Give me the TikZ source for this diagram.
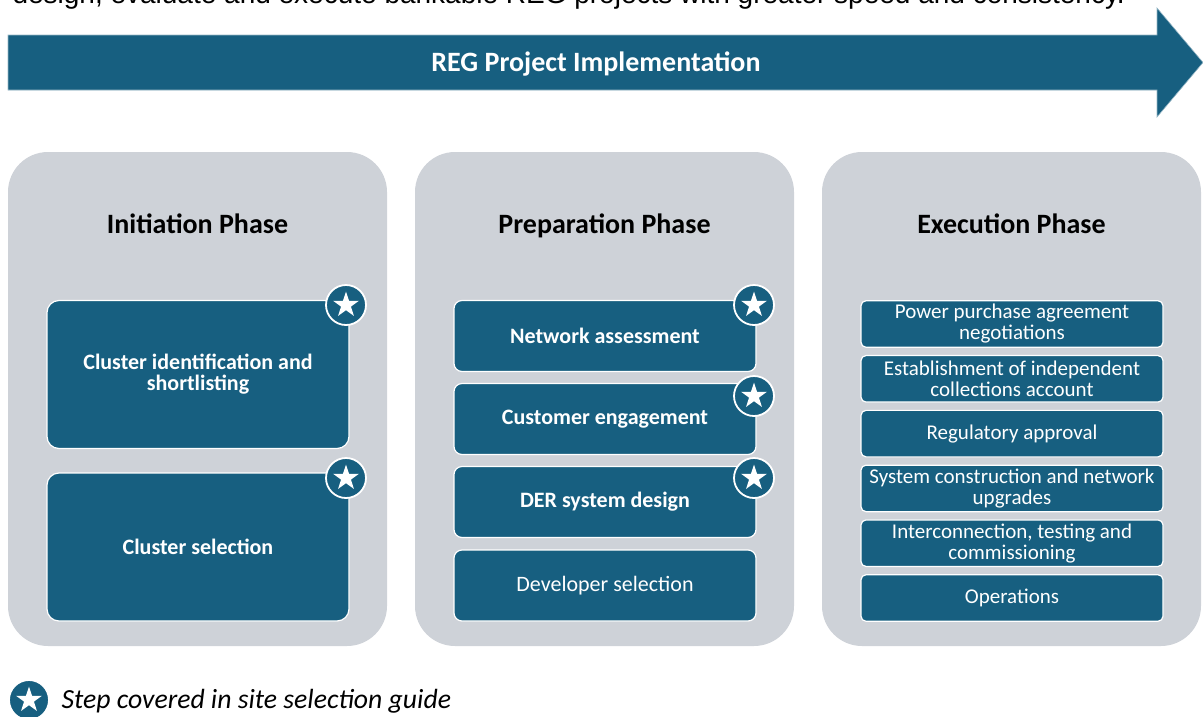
\documentclass[tikz,border=0pt]{standalone}
\usepackage{fontspec}
\setmainfont{Carlito}
\newfontfamily\introfont{Liberation Sans}
\usepackage{tikz}
\usetikzlibrary{shapes.geometric}

\definecolor{regblue}{RGB}{23,95,128}
\definecolor{phasegrey}{RGB}{206,210,216}

\begin{document}
\begin{tikzpicture}[x=1pt,y=-1pt,
  phase/.style={shape=rectangle, fill=phasegrey, rounded corners=40pt, minimum width=379pt, minimum height=494pt},
  phasetitle/.style={anchor=base, font=\fontsize{28}{30}\selectfont\bfseries},
  bigstep/.style={shape=rectangle, draw=white, line width=1.2pt, fill=regblue, rounded corners=12pt, minimum width=302pt, minimum height=148pt, text=white, align=center, font=\fontsize{22}{21}\selectfont\bfseries},
  midstep/.style={bigstep, rounded corners=8pt, minimum height=71pt},
  smallstep/.style={bigstep, rounded corners=5pt, minimum height=46.5pt, font=\fontsize{21}{21}\selectfont},
  badge/.style={shape=circle, fill=regblue, draw=white, line width=1.8pt, minimum size=40pt, inner sep=0pt},
  starmark/.style={shape=star, star points=5, star point ratio=2.6, fill=white, minimum size=27pt, inner sep=0pt}]
\useasboundingbox (0,0) rectangle (1203,716);
\clip (0,0) rectangle (1203,716);

\node (intro) at (9,3) [anchor=base west, font=\introfont\fontsize{28}{30}\selectfont]{design, evaluate and execute bankable REG projects with greater speed and consistency.};

% the big arrow across the top
\fill [regblue, draw=white!55!regblue, line width=0.6pt] (8,35) -- (1157,35) -- (1157,8) -- (1203,62.5) -- (1157,117) -- (1157,90) -- (8,90) -- cycle;
\node (banner) at (596,71) [anchor=base, text=white, font=\fontsize{28}{30}\selectfont\bfseries]{REG Project Implementation};

% phases
\node (p1) at (197.5,399) [phase]{};
\node (p2) at (604.5,399) [phase]{};
\node (p3) at (1011.5,399) [phase]{};
\node (t1) at (197.5,233) [phasetitle]{Initiation Phase};
\node (t2) at (604.5,233) [phasetitle]{Preparation Phase};
\node (t3) at (1011.5,233) [phasetitle]{Execution Phase};

% initiation
\node (a1) at (198,374.5) [bigstep]{Cluster identification and\\shortlisting};
\node (a2) at (198,547) [bigstep]{Cluster selection};

% preparation
\node (b1) at (605,336) [midstep]{Network assessment};
\node (b2) at (605,419) [midstep]{Customer engagement};
\node (b3) at (605,502) [midstep]{DER system design};
\node (b4) at (605,585.5) [midstep, font=\fontsize{22}{21}\selectfont]{Developer selection};

% execution
\node (c1) at (1012,324) [smallstep]{Power purchase agreement\\negotiations};
\node (c2) at (1012,378.8) [smallstep]{Establishment of independent\\collections account};
\node (c3) at (1012,433.6) [smallstep]{Regulatory approval};
\node (c4) at (1012,488.4) [smallstep]{System construction and network\\upgrades};
\node (c5) at (1012,543.2) [smallstep]{Interconnection, testing and\\commissioning};
\node (c6) at (1012,598) [smallstep]{Operations};

% star badges
\node (s1) at (346,305) [badge]{};
\node (s1i) at (s1) [starmark]{};
\node (s2) at (346,478) [badge]{};
\node (s2i) at (s2) [starmark]{};
\node (s3) at (754,305) [badge]{};
\node (s3i) at (s3) [starmark]{};
\node (s4) at (754,396) [badge]{};
\node (s4i) at (s4) [starmark]{};
\node (s5) at (754,478) [badge]{};
\node (s5i) at (s5) [starmark]{};

% legend
\node (key) at (29,700) [badge]{};
\node (keyi) at (key) [starmark]{};
\node (keytext) at (58,708) [anchor=base west, font=\fontsize{27.7}{28}\selectfont\itshape]{Step covered in site selection guide};
\end{tikzpicture}
\end{document}
